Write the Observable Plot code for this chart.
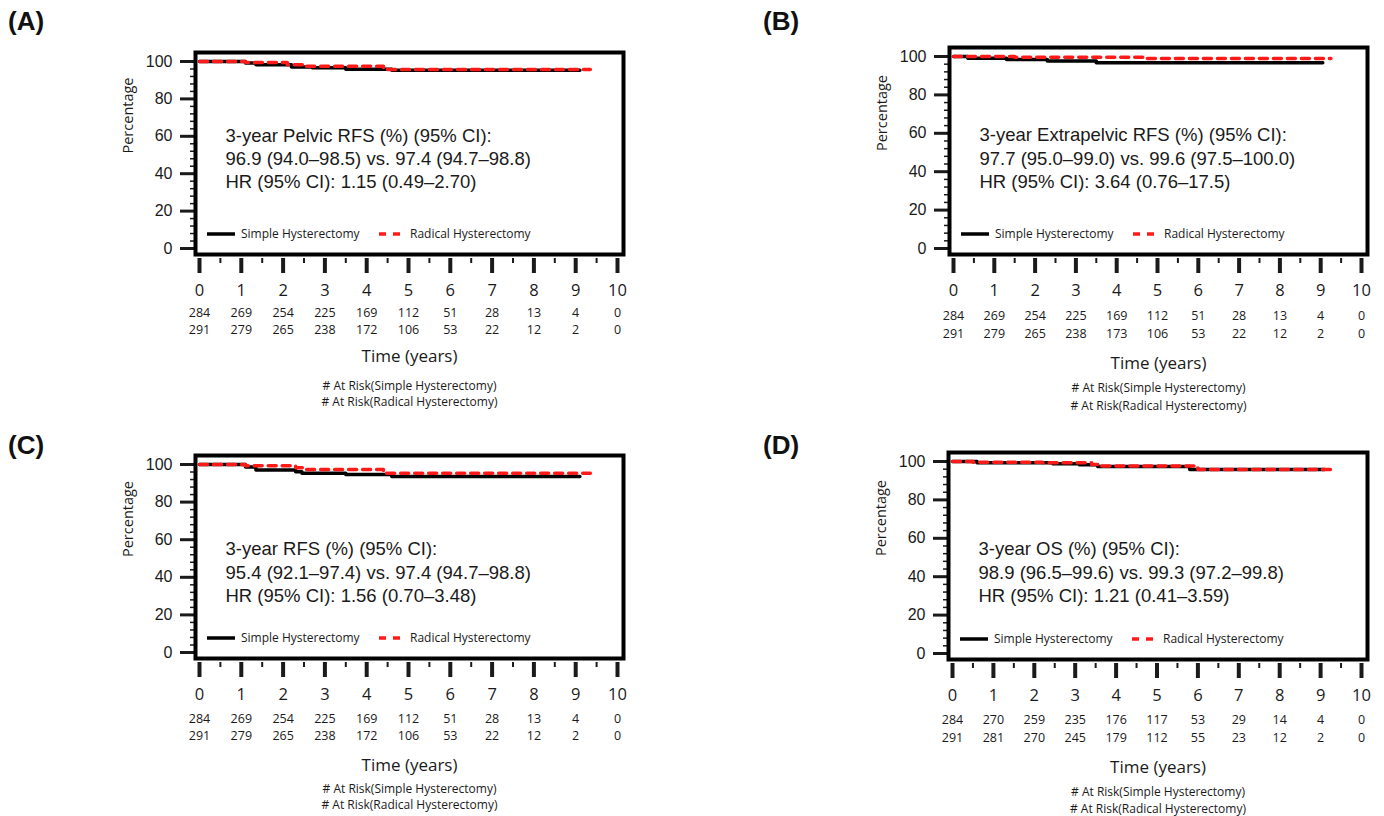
<!DOCTYPE html>
<html><head><meta charset="utf-8">
<script src="https://cdn.jsdelivr.net/npm/d3@7"></script>
<script src="https://cdn.jsdelivr.net/npm/@observablehq/plot@0.6"></script>
<style>
body{margin:0;background:#fff;width:1384px;height:816px;position:relative;overflow:hidden;font-family:"Open Sans",sans-serif}
.panel{position:absolute}
.lab{position:absolute;font:bold 26px "Liberation Sans",Arial,sans-serif;color:#111;line-height:1}
</style></head><body>
<script>
// ---------- data ----------
const years = [0,1,2,3,4,5,6,7,8,9,10];
const halfYears = [0.5,1.5,2.5,3.5,4.5,5.5,6.5,7.5,8.5,9.5];
const yMajor = [0,20,40,60,80,100];
const yMinor = [4,8,12,16,24,28,32,36,44,48,52,56,64,68,72,76,84,88,92,96];
const groups = ["Simple Hysterectomy","Radical Hysterectomy"];
const panelLabels = ["(A)","(B)","(C)","(D)"];

// Kaplan–Meier step curves (time in years, percentage)
const timeA_simple = [0,1.1,1.35,2.2,2.7,3.5,4.6,9.1];
const survA_simple = [100,99.2,98.2,97.1,96.7,95.8,95.3,95.3];
const timeA_radical = [0,1.1,2.1,2.5,4.4,9.35];
const survA_radical = [100,99.4,98.3,97.4,95.7,95.7];

const timeB_simple = [0,0.35,1.3,2.3,3.5,9.05];
const survB_simple = [100,99.1,98.4,97.6,96.8,96.8];
const timeB_radical = [0,1.5,4.75,9.25];
const survB_radical = [100,99.6,98.9,98.9];

const timeC_simple = [0,1.1,1.35,2.3,2.45,3.5,4.6,9.1];
const survC_simple = [100,98.7,97.1,96.1,95.4,94.7,93.6,93.6];
const timeC_radical = [0,1.1,2.3,2.5,4.4,9.35];
const survC_radical = [100,99.3,98.3,97.4,95.3,95.3];

const timeD_simple = [0,0.6,2.45,3.1,3.55,5.8,9.1];
const survD_simple = [100,99.3,98.8,98.3,97.4,95.8,95.8];
const timeD_radical = [0,0.5,2.2,3.4,3.6,6.0,9.3];
const survD_radical = [100,99.6,99.3,98.4,97.6,95.8,95.8];

// Numbers at risk
const riskA_simple = [284,269,254,225,169,112,51,28,13,4,0];
const riskA_radical = [291,279,265,238,172,106,53,22,12,2,0];
const riskB_simple = [284,269,254,225,169,112,51,28,13,4,0];
const riskB_radical = [291,279,265,238,173,106,53,22,12,2,0];
const riskC_simple = [284,269,254,225,169,112,51,28,13,4,0];
const riskC_radical = [291,279,265,238,172,106,53,22,12,2,0];
const riskD_simple = [284,270,259,235,176,117,53,29,14,4,0];
const riskD_radical = [291,281,270,245,179,112,55,23,12,2,0];

// Annotations
const noteA = ["3-year Pelvic RFS (%) (95% CI):","96.9 (94.0–98.5) vs. 97.4 (94.7–98.8)","HR (95% CI): 1.15 (0.49–2.70)"];
const noteB = ["3-year Extrapelvic RFS (%) (95% CI):","97.7 (95.0–99.0) vs. 99.6 (97.5–100.0)","HR (95% CI): 3.64 (0.76–17.5)"];
const noteC = ["3-year RFS (%) (95% CI):","95.4 (92.1–97.4) vs. 97.4 (94.7–98.8)","HR (95% CI): 1.56 (0.70–3.48)"];
const noteD = ["3-year OS (%) (95% CI):","98.9 (96.5–99.6) vs. 99.3 (97.2–99.8)","HR (95% CI): 1.21 (0.41–3.59)"];

const xLabel = "Time (years)";
const yLabel = "Percentage";
const riskLabels = ["# At Risk(Simple Hysterectomy)","# At Risk(Radical Hysterectomy)"];

// ---------- layout ----------
const layouts = [
  {left:0,   top:30,  width:692, height:390, mL:195, mR:69, mT:22, mB:166, noteDy:73,   rows:[62,79,107,135,151], labX:8,   labY:8},
  {left:692, top:30,  width:692, height:390, mL:257, mR:17, mT:17, mB:166, noteDy:77.5, rows:[65,83,114,137,155], labX:763, labY:8},
  {left:0,   top:430, width:692, height:386, mL:195, mR:69, mT:25, mB:158, noteDy:83.5, rows:[64,81,112,134,150], labX:8,   labY:432},
  {left:692, top:430, width:692, height:386, mL:256, mR:17, mT:22, mB:157, noteDy:86.5, rows:[64,82,113,136,153], labX:763, labY:432}
];

const panelData = [
  {s:[timeA_simple,survA_simple], r:[timeA_radical,survA_radical], rs:riskA_simple, rr:riskA_radical, note:noteA},
  {s:[timeB_simple,survB_simple], r:[timeB_radical,survB_radical], rs:riskB_simple, rr:riskB_radical, note:noteB},
  {s:[timeC_simple,survC_simple], r:[timeC_radical,survC_radical], rs:riskC_simple, rr:riskC_radical, note:noteC},
  {s:[timeD_simple,survD_simple], r:[timeD_radical,survD_radical], rs:riskD_simple, rr:riskD_radical, note:noteD}
];

const RED = "#ff1a1a";
const TXT = "#1a1a1a";

function legendMark(index, scales, values, dim) {
  const g = d3.create("svg:g").attr("text-anchor", "start");
  const y = dim.height - dim.marginBottom - 20;
  const x0 = dim.marginLeft;
  g.append("line").attr("x1", x0 + 12).attr("x2", x0 + 40).attr("y1", y).attr("y2", y)
    .attr("stroke", "#000").attr("stroke-width", 3.5);
  g.append("text").attr("x", x0 + 46).attr("y", y).attr("dy", "0.35em").attr("text-anchor", "start")
    .attr("font-family", "Open Sans").attr("font-size", 12).attr("fill", TXT).text(groups[0]);
  g.append("line").attr("x1", x0 + 184).attr("x2", x0 + 205).attr("y1", y).attr("y2", y)
    .attr("stroke", RED).attr("stroke-width", 3.5).attr("stroke-dasharray", "7,7");
  g.append("text").attr("x", x0 + 215).attr("y", y).attr("dy", "0.35em").attr("text-anchor", "start")
    .attr("font-family", "Open Sans").attr("font-size", 12).attr("fill", TXT).text(groups[1]);
  return g.node();
}

function makePanel(L, P) {
  const simple = P.s[0].map((t, i) => ({time: t, surv: P.s[1][i], group: groups[0]}));
  const radical = P.r[0].map((t, i) => ({time: t, surv: P.r[1][i], group: groups[1]}));
  const risk = years.map((y, i) => ({year: y, s: P.rs[i], r: P.rr[i]}));
  return Plot.plot({
    width: L.width, height: L.height,
    marginLeft: L.mL, marginRight: L.mR, marginTop: L.mT, marginBottom: L.mB,
    style: {background: "transparent", fontFamily: "Liberation Sans", fontSize: "16px", color: TXT},
    x: {domain: [0, 10], insetLeft: 4, insetRight: 6},
    y: {domain: [0, 100], insetTop: 9, insetBottom: 6},
    marks: [
      Plot.axisY(yMinor, {tickSize: 5, strokeWidth: 1.5, tickFormat: () => "", label: null}),
      Plot.axisY(yMajor, {tickSize: 15, tickPadding: 8, strokeWidth: 3, fontSize: 16, fontFamily: "Liberation Sans", label: null}),
      Plot.axisX(halfYears, {tickSize: 5, strokeWidth: 2, dy: 4, tickFormat: () => "", label: null}),
      Plot.axisX(years, {tickSize: 15, tickPadding: 11, strokeWidth: 4, dy: 4, fontSize: 16.5, fontFamily: "Open Sans", label: null}),
      Plot.line(simple, {x: "time", y: "surv", curve: "step-after", stroke: "#000", strokeWidth: 3.5}),
      Plot.line(radical, {x: "time", y: "surv", curve: "step-after", stroke: RED, strokeWidth: 3.5, strokeDasharray: "8,6"}),
      Plot.frame({stroke: "#000", strokeWidth: 4}),
      Plot.text([P.note.join("\n")], {frameAnchor: "top-left", dx: 30, dy: L.noteDy, textAnchor: "start", lineAnchor: "top", lineHeight: 1.25, fontSize: 18.5, fontFamily: "Liberation Sans", fill: TXT}),
      legendMark,
      Plot.text(risk, {x: "year", text: d => String(d.s), frameAnchor: "bottom", dy: L.rows[0], fontSize: 12.5, fontFamily: "Open Sans", fill: TXT}),
      Plot.text(risk, {x: "year", text: d => String(d.r), frameAnchor: "bottom", dy: L.rows[1], fontSize: 12.5, fontFamily: "Open Sans", fill: TXT}),
      Plot.text([xLabel], {frameAnchor: "bottom", dy: L.rows[2], fontSize: 17, fontFamily: "Open Sans", fill: TXT}),
      Plot.text([riskLabels[0]], {frameAnchor: "bottom", dy: L.rows[3], fontSize: 12, fontFamily: "Open Sans", fill: TXT}),
      Plot.text([riskLabels[1]], {frameAnchor: "bottom", dy: L.rows[4], fontSize: 12, fontFamily: "Open Sans", fill: TXT}),
      Plot.text([yLabel], {frameAnchor: "left", dx: -67, rotate: -90, fontSize: 14.5, fontFamily: "Open Sans", fill: TXT})
    ]
  });
}

layouts.forEach((L, i) => {
  const div = document.createElement("div");
  div.className = "panel";
  div.style.left = L.left + "px";
  div.style.top = L.top + "px";
  div.appendChild(makePanel(L, panelData[i]));
  document.body.appendChild(div);
  const lab = document.createElement("div");
  lab.className = "lab";
  lab.style.left = L.labX + "px";
  lab.style.top = L.labY + "px";
  lab.textContent = panelLabels[i];
  document.body.appendChild(lab);
});
</script>
</body></html>
